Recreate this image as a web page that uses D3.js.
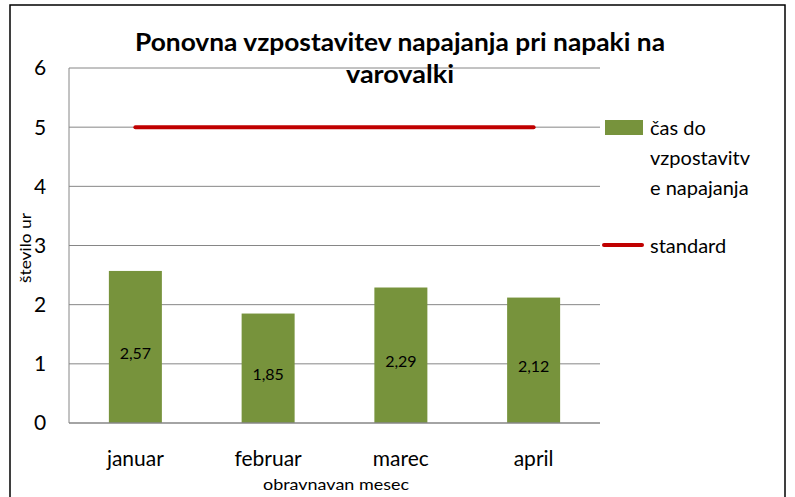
<!DOCTYPE html>
<html><head><meta charset="utf-8">
<script src="https://cdn.jsdelivr.net/npm/d3@7"></script>
<style>body{margin:0;background:#fff}svg{display:block}text{font-family:"Lato","Open Sans",sans-serif;fill:#000}</style>
</head><body><svg width="795" height="497"></svg>
<script>
const categories = ["januar","februar","marec","april"];
const values = [2.57,1.85,2.29,2.12];
const standard = [5,5,5,5];
const yTicks = [0,1,2,3,4,5,6];
const titleLines = ["Ponovna vzpostavitev napajanja pri napaki na","varovalki"];
const legendBar = ["čas do","vzpostavitv","e napajanja"];
const legendLine = "standard";

const svg = d3.select("svg");
const m = {l:69, r:600, t:68, b:423};
svg.append("rect").attr("x",10).attr("y",5).attr("width",775).attr("height",500)
  .attr("fill","#fff").attr("stroke","#000").attr("stroke-width",1.5);

const y = d3.scaleLinear().domain([0,6]).range([m.b,m.t]);
const xc = d3.scaleBand().domain(categories).range([m.l,m.r]);

// grid
svg.append("g").selectAll("line").data(yTicks.filter(d=>d>0)).join("line")
  .attr("x1",m.l).attr("x2",m.r).attr("y1",d=>y(d)).attr("y2",d=>y(d))
  .attr("stroke","#868686").attr("stroke-width",1);
// axes
svg.append("line").attr("x1",m.l).attr("x2",m.l).attr("y1",m.t).attr("y2",m.b).attr("stroke","#868686");
svg.append("g").selectAll("text").data(yTicks).join("text")
  .attr("x",40).attr("y",d=>y(d)).attr("dy","0.35em").attr("text-anchor","middle")
  .style("font-size","21px").text(d=>d);

// bars
svg.append("g").selectAll("rect").data(values).join("rect")
  .attr("x",(d,i)=>xc(categories[i])+xc.bandwidth()/2-26.5).attr("width",53)
  .attr("y",d=>y(d)).attr("height",d=>m.b-y(d)).attr("fill","#77933C");
svg.append("line").attr("x1",m.l).attr("x2",m.r).attr("y1",m.b).attr("y2",m.b).attr("stroke","#868686").attr("stroke-width",1.5);
svg.append("g").selectAll("text").data(values).join("text")
  .attr("x",(d,i)=>xc(categories[i])+xc.bandwidth()/2).attr("y",d=>y(d/2)+6).attr("dy","0.35em")
  .attr("text-anchor","middle").style("font-size","16px").text(d=>d.toFixed(2).replace(".",","));

// standard line
const line = d3.line().x((d,i)=>xc(categories[i])+xc.bandwidth()/2).y(d=>y(d));
svg.append("path").datum(standard).attr("d",line).attr("fill","none")
  .attr("stroke","#C00000").attr("stroke-width",4).attr("stroke-linecap","round");

// category labels
svg.append("g").selectAll("text").data(categories).join("text")
  .attr("x",d=>xc(d)+xc.bandwidth()/2).attr("y",459).attr("dy","0.35em")
  .attr("text-anchor","middle").style("font-size","21px").text(d=>d);
svg.append("text").attr("x",336).attr("y",484).attr("dy","0.35em").attr("text-anchor","middle")
  .attr("textLength",146).attr("lengthAdjust","spacingAndGlyphs")
  .style("font-size","16px").text("obravnavan mesec");
svg.append("text").attr("transform","translate(26,248) rotate(-90)").attr("dy","0.35em")
  .attr("text-anchor","middle").attr("textLength",70).attr("lengthAdjust","spacingAndGlyphs")
  .style("font-size","15px").text("število ur");

// title
svg.append("g").selectAll("text").data(titleLines).join("text")
  .attr("x",400).attr("y",(d,i)=>43+i*32).attr("dy","0.35em").attr("text-anchor","middle")
  .attr("textLength",(d,i)=>i===0?530:108).attr("lengthAdjust","spacingAndGlyphs")
  .style("font-size","24px").style("font-weight","bold").text(d=>d);

// legend
svg.append("rect").attr("x",605).attr("y",120).attr("width",38).attr("height",15).attr("fill","#77933C");
svg.append("g").selectAll("text").data(legendBar).join("text")
  .attr("x",650).attr("y",(d,i)=>128+i*30).attr("dy","0.35em").style("font-size","20px").text(d=>d);
svg.append("line").attr("x1",604).attr("x2",642).attr("y1",245).attr("y2",245)
  .attr("stroke","#C00000").attr("stroke-width",4).attr("stroke-linecap","round");
svg.append("text").attr("x",650).attr("y",246).attr("dy","0.35em").style("font-size","20px").text(legendLine);
</script></body></html>
